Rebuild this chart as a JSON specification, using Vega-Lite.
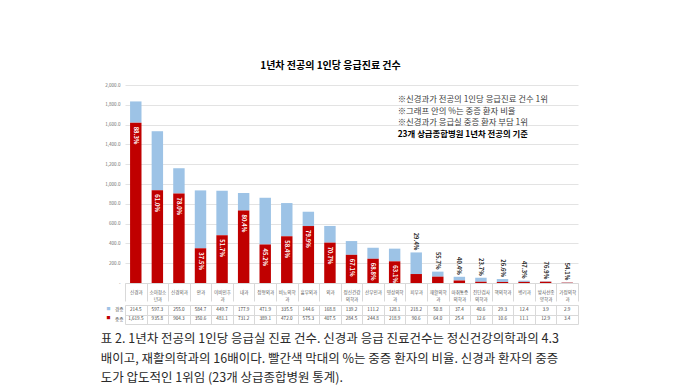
{
  "$schema": "https://vega.github.io/schema/vega-lite/v6.json",
  "padding": {"left": 100, "top": 61, "right": 5, "bottom": 4},
  "background": "white",
  "config": {
    "font": "Noto Sans CJK KR",
    "view": {"stroke": null},
    "axis": {"labelFont": "Noto Sans CJK KR"},
    "axisQuantitative": {
      "tickCount": 10,
      "labelExpr": "datum.value === 0 ? '-' : format(datum.value, ',.1f')",
      "labelFontSize": 4.6,
      "labelColor": "#6f6f6f",
      "labelPadding": 5,
      "labelOverlap": false,
      "labelFlush": false,
      "ticks": false,
      "domain": false,
      "grid": true,
      "gridColor": "#e3e3e3",
      "gridWidth": 1
    }
  },
  "title": {
    "text": [
      "표 2. 1년차 전공의 1인당 응급실 진료 건수. 신경과 응급 진료건수는 정신건강의학과의 4.3",
      "배이고, 재활의학과의 16배이다. 빨간색 막대의 %는 중증 환자의 비율. 신경과 환자의 중증",
      "도가 압도적인 1위임 (23개 상급종합병원 통계)."
    ],
    "orient": "bottom",
    "anchor": "start",
    "frame": "bounds",
    "fontSize": 12.5,
    "fontWeight": "normal",
    "color": "#2a2a2a",
    "lineHeight": 19.5,
    "offset": 9,
    "dx": -4
  },
  "datasets": {
    "depts": [
      {"dept": "신경과", "경증": 214.5, "중증": 1619.5, "pct": 0.883},
      {"dept": "소아청소년과", "경증": 597.3, "중증": 935.8, "pct": 0.610},
      {"dept": "신경외과", "경증": 255.0, "중증": 904.3, "pct": 0.780},
      {"dept": "안과", "경증": 584.7, "중증": 350.6, "pct": 0.375},
      {"dept": "이비인후과", "경증": 449.7, "중증": 481.1, "pct": 0.517},
      {"dept": "내과", "경증": 177.9, "중증": 731.2, "pct": 0.804},
      {"dept": "정형외과", "경증": 471.9, "중증": 389.1, "pct": 0.452},
      {"dept": "비뇨의학과", "경증": 335.5, "중증": 472.0, "pct": 0.584},
      {"dept": "흉부외과", "경증": 144.6, "중증": 575.3, "pct": 0.799},
      {"dept": "외과", "경증": 168.8, "중증": 407.5, "pct": 0.707},
      {"dept": "정신건강의학과", "경증": 139.2, "중증": 284.5, "pct": 0.671},
      {"dept": "산부인과", "경증": 111.2, "중증": 244.8, "pct": 0.688},
      {"dept": "영상의학과", "경증": 128.1, "중증": 218.9, "pct": 0.631},
      {"dept": "피부과", "경증": 218.2, "중증": 90.6, "pct": 0.294},
      {"dept": "재활의학과", "경증": 50.8, "중증": 64.0, "pct": 0.557},
      {"dept": "마취통증의학과", "경증": 37.4, "중증": 25.4, "pct": 0.404},
      {"dept": "진단검사의학과", "경증": 40.6, "중증": 12.6, "pct": 0.237},
      {"dept": "핵의학과", "경증": 29.3, "중증": 10.6, "pct": 0.266},
      {"dept": "병리과", "경증": 12.4, "중증": 11.1, "pct": 0.473},
      {"dept": "방사선종양학과", "경증": 3.9, "중증": 12.9, "pct": 0.769},
      {"dept": "가정의학과", "경증": 2.9, "중증": 3.4, "pct": 0.541}
    ]
  },
  "spacing": 0,
  "vconcat": [
    {
      "width": 453,
      "height": 198,
      "title": {
        "text": "1년차 전공의 1인당 응급진료 건수",
        "fontSize": 10,
        "fontWeight": "bold",
        "color": "#000000",
        "anchor": "middle",
        "frame": "group",
        "dx": -21,
        "offset": 11
      },
      "data": {"name": "depts"},
      "layer": [
        {
          "transform": [{"fold": ["경증", "중증"], "as": ["type", "count"]}],
          "mark": {"type": "bar", "width": {"band": 0.53}},
          "encoding": {
            "x": {
              "field": "dept", "type": "nominal", "sort": null, "title": null,
              "scale": {"paddingInner": 0, "paddingOuter": 0},
              "axis": {
                "labelAngle": 0,
                "labelExpr": "length(datum.label) > 4 ? [substring(datum.label, 0, 4), substring(datum.label, 4)] : datum.label",
                "labelFontSize": 4.6,
                "labelColor": "#595959",
                "labelLineHeight": 7,
                "labelBaseline": "middle",
                "labelPadding": -9,
                "labelOverlap": false,
                "labelLimit": 0,
                "ticks": true,
                "tickBand": "extent",
                "tickSize": 18,
                "tickColor": "#d9d9d9",
                "domain": true,
                "domainColor": "#d9d9d9",
                "grid": false
              }
            },
            "y": {
              "field": "count", "type": "quantitative", "title": null,
              "scale": {"domain": [0, 2000], "nice": false}
            },
            "color": {
              "field": "type", "type": "nominal",
              "scale": {"domain": ["경증", "중증"], "range": ["#9dc3e6", "#c00000"]},
              "legend": null
            },
            "order": {"field": "type", "sort": "descending"}
          }
        },
        {
          "transform": [{"filter": "datum['중증'] >= 150"}],
          "mark": {"type": "text", "angle": 90, "align": "left", "baseline": "middle", "dx": 4, "color": "white", "fontWeight": "bold", "fontSize": 5.8},
          "encoding": {
            "x": {"field": "dept", "type": "nominal", "sort": null, "title": null},
            "y": {"field": "중증", "type": "quantitative", "title": null},
            "text": {"field": "pct", "type": "quantitative", "format": ".1%"}
          }
        },
        {
          "transform": [
            {"filter": "datum['중증'] < 150"},
            {"fold": ["경증", "중증"], "as": ["type", "count"]}
          ],
          "mark": {"type": "text", "angle": 90, "align": "right", "baseline": "middle", "dx": -2, "color": "#262626", "fontWeight": "bold", "fontSize": 5.8},
          "encoding": {
            "x": {"field": "dept", "type": "nominal", "sort": null, "title": null},
            "y": {"aggregate": "sum", "field": "count", "type": "quantitative", "title": null},
            "text": {"field": "pct", "type": "quantitative", "format": ".1%"}
          }
        },
        {
          "transform": [{"filter": "datum.dept === '영상의학과'"}],
          "mark": {"type": "text", "text": "※신경과가 전공의 1인당 응급진료 건수 1위", "align": "left", "baseline": "middle", "dx": 3, "fontSize": 8.4, "color": "#404040"},
          "encoding": {
            "x": {"field": "dept", "type": "nominal", "sort": null, "title": null},
            "y": {"datum": 1859}
          }
        },
        {
          "transform": [{"filter": "datum.dept === '영상의학과'"}],
          "mark": {"type": "text", "text": "※그래프 안의 %는 중증 환자 비율", "align": "left", "baseline": "middle", "dx": 3, "fontSize": 8.4, "color": "#404040"},
          "encoding": {
            "x": {"field": "dept", "type": "nominal", "sort": null, "title": null},
            "y": {"datum": 1742}
          }
        },
        {
          "transform": [{"filter": "datum.dept === '영상의학과'"}],
          "mark": {"type": "text", "text": "※신경과가 응급실 중증 환자 부담 1위", "align": "left", "baseline": "middle", "dx": 3, "fontSize": 8.4, "color": "#404040"},
          "encoding": {
            "x": {"field": "dept", "type": "nominal", "sort": null, "title": null},
            "y": {"datum": 1626}
          }
        },
        {
          "transform": [{"filter": "datum.dept === '영상의학과'"}],
          "mark": {"type": "text", "text": "23개 상급종합병원 1년차 전공의 기준", "align": "left", "baseline": "middle", "dx": 3, "fontSize": 8.4, "fontWeight": "bold", "color": "#000000"},
          "encoding": {
            "x": {"field": "dept", "type": "nominal", "sort": null, "title": null},
            "y": {"datum": 1505}
          }
        }
      ]
    },
    {
      "width": 453,
      "height": 19,
      "data": {"name": "depts"},
      "transform": [{"fold": ["경증", "중증"], "as": ["type", "count"]}],
      "layer": [
        {
          "mark": {"type": "text", "fontSize": 4.6, "color": "#404040"},
          "encoding": {
            "x": {
              "field": "dept", "type": "nominal", "sort": null, "title": null,
              "scale": {"paddingInner": 0, "paddingOuter": 0},
              "axis": {"labels": false, "ticks": false, "domain": false, "grid": true, "tickBand": "extent", "gridColor": "#d9d9d9"}
            },
            "y": {
              "field": "type", "type": "nominal", "title": null,
              "scale": {"domain": ["경증", "중증"], "paddingInner": 0, "paddingOuter": 0},
              "axis": {"labelFontSize": 4.6, "labelColor": "#595959", "labelPadding": 2, "ticks": false, "domain": false, "grid": true, "tickBand": "extent", "gridColor": "#d9d9d9"}
            },
            "text": {"field": "count", "type": "quantitative", "format": ",.1f"}
          }
        },
        {
          "mark": {"type": "text", "text": ""},
          "encoding": {
            "x": {"field": "dept", "type": "nominal", "sort": null, "title": null},
            "y": {
              "field": "type", "type": "nominal", "title": null,
              "axis": {
                "orient": "left", "offset": 13, "labelExpr": "'■'", "labelFontSize": 4,
                "labelColor": {"condition": {"test": "datum.value === '경증'", "value": "#9dc3e6"}, "value": "#c00000"},
                "labelPadding": 2, "ticks": false, "domain": false, "grid": false
              }
            }
          }
        }
      ],
      "resolve": {"axis": {"y": "independent"}}
    }
  ]
}
